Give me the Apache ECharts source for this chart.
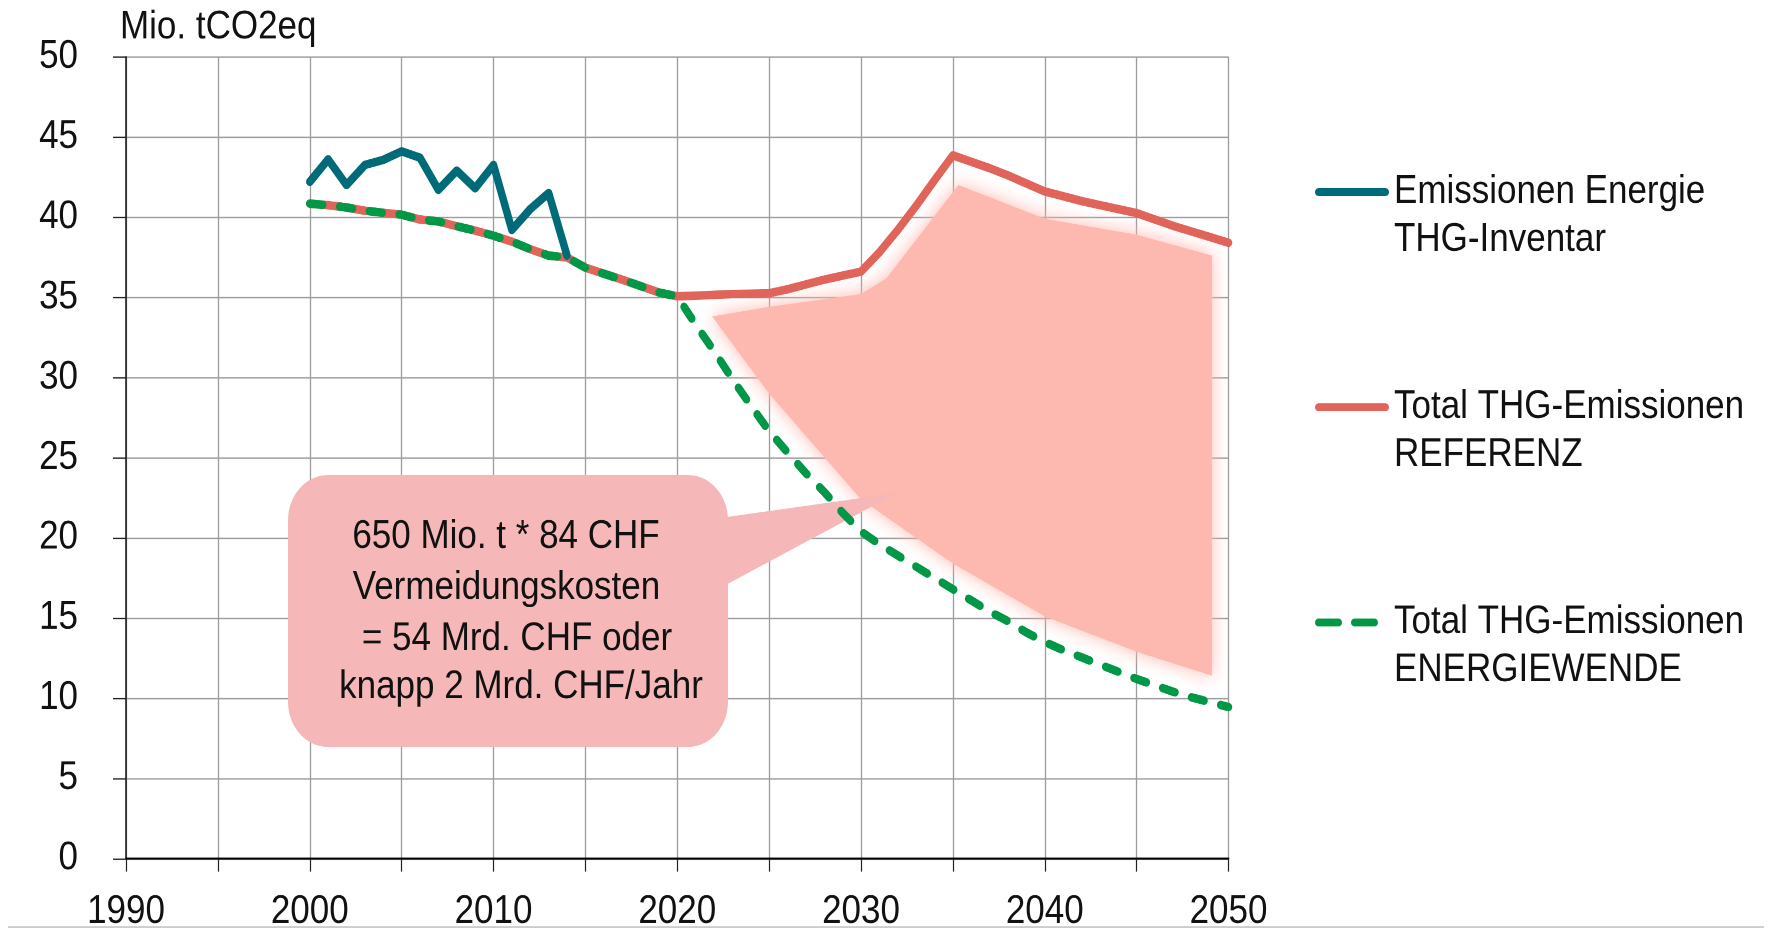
<!DOCTYPE html>
<html>
<head>
<meta charset="utf-8">
<script src="https://cdn.jsdelivr.net/npm/echarts@6/dist/echarts.min.js"></script>
<style>
html, body { margin: 0; padding: 0; background: #ffffff; overflow: hidden; width: 1773px; height: 932px; }
#chart { width: 1773px; height: 825px; transform: scaleY(1.12970); transform-origin: 0 0; }
</style>
</head>
<body>
<div id="chart"></div>
<script>
// ---------- data ----------
const yAxisTitle = 'Mio. tCO2eq';

const inventarYears = [2000, 2001, 2002, 2003, 2004, 2005, 2006, 2007, 2008, 2009, 2010, 2011, 2012, 2013, 2014];
const inventar      = [42.2, 43.6, 42.0, 43.25, 43.57, 44.1, 43.7, 41.7, 42.9, 41.8, 43.25, 39.2, 40.5, 41.5, 37.6];

const scenarioYears = [2000, 2001, 2002, 2003, 2004, 2005, 2006, 2007, 2008, 2009,
                       2010, 2011, 2012, 2013, 2014, 2015, 2016, 2017, 2018, 2019,
                       2020, 2021, 2022, 2023, 2024, 2025, 2026, 2027, 2028, 2029,
                       2030, 2031, 2032, 2033, 2034, 2035, 2036, 2037, 2038, 2039,
                       2040, 2041, 2042, 2043, 2044, 2045, 2046, 2047, 2048, 2049, 2050];
const referenz = [40.84, 40.74, 40.6, 40.4, 40.27, 40.15, 39.85, 39.73, 39.43, 39.16,
                  38.84, 38.47, 38.0, 37.6, 37.48, 36.85, 36.47, 36.1, 35.7, 35.3,
                  35.06, 35.1, 35.15, 35.2, 35.22, 35.25, 35.5, 35.8, 36.1, 36.35,
                  36.6, 37.8, 39.2, 40.7, 42.3, 43.85, 43.45, 43.05, 42.6, 42.1,
                  41.6, 41.3, 41.0, 40.75, 40.5, 40.25, 39.85, 39.45, 39.1, 38.75, 38.4];
const energiewende = [40.84, 40.74, 40.6, 40.4, 40.27, 40.15, 39.85, 39.73, 39.43, 39.16,
                      38.84, 38.47, 38.0, 37.6, 37.48, 36.85, 36.47, 36.1, 35.7, 35.3,
                      35.06, 33.3, 31.65, 29.9, 28.25, 26.65, 25.33, 24.03, 22.86, 21.56,
                      20.4, 19.6, 18.9, 18.2, 17.5, 16.8, 16.1, 15.4, 14.8, 14.1,
                      13.5, 13.0, 12.55, 12.1, 11.65, 11.2, 10.8, 10.4, 10.05, 9.75, 9.45];

// gap area (soft shaded polygon between the two scenarios)
const shadeUpper = [[2021.9, 33.8], [2025, 34.4], [2030, 35.2], [2031.4, 36.2], [2035.3, 42.0], [2040, 39.9], [2045, 38.9], [2049.1, 37.6]];
const shadeLower = [[2049.1, 11.4], [2045, 12.9], [2040, 15.1], [2035, 18.4], [2030, 22.4], [2025, 29.0]];

const seriesNames = ['Emissionen Energie\nTHG-Inventar', 'Total THG-Emissionen\nREFERENZ', 'Total THG-Emissionen\nENERGIEWENDE'];
const calloutLines = ['650 Mio. t * 84 CHF', 'Vermeidungskosten', '= 54 Mrd. CHF oder', 'knapp 2 Mrd. CHF/Jahr'];

const xMin = 1990, xMax = 2050, xStep = 5, xLabelStep = 10;
const yMin = 0, yMax = 50, yStep = 5;

// ---------- styles ----------
const FONT = "'Liberation Sans', Arial, sans-serif";
const TXT = '#111111';
const GRID_C = '#9c9c9c';
const C_TEAL = '#006b78';
const C_RED = '#e0645a';
const C_GREEN = '#009846';
const C_SHADE = '#fdb9b0';
const C_CALLOUT = '#f5b7b7';
const LINE_W = 7.5;

const ICON_SOLID = 'path://M3.5,0H70.5A3.5,3.5 0 0 1 70.5,7H3.5A3.5,3.5 0 0 1 3.5,0Z';
const ICON_DASH = 'path://M3.5,0H23.5A3.5,3.5 0 0 1 23.5,7H3.5A3.5,3.5 0 0 1 3.5,0Z M39.5,0H59.5A3.5,3.5 0 0 1 59.5,7H39.5A3.5,3.5 0 0 1 39.5,0Z M73.9,3.45H74V3.55H73.9Z';

function pairs(xs, ys) { return xs.map((x, i) => [x, ys[i]]); }

const chart = echarts.init(document.getElementById('chart'), null, { devicePixelRatio: 2 });

const calloutY = [475.3, 520.5, 565.6, 608.1];
const calloutX = [506, 506.5, 517, 521];

chart.setOption({
  animation: false,
  backgroundColor: '#ffffff',
  grid: { left: 126, right: 544.5, top: 50.2, bottom: 63.7, containLabel: false },
  xAxis: {
    type: 'value', min: xMin, max: xMax, interval: xStep,
    axisLine: { show: true, onZero: false, lineStyle: { color: '#000000', width: 1.8 } },
    axisTick: { show: true, length: 11.5, lineStyle: { color: '#222222', width: 1.2 } },
    axisLabel: {
      margin: 30, fontFamily: FONT, fontSize: 35, lineHeight: 35, color: TXT,
      formatter: v => (v % xLabelStep === 0 ? String(v) : '')
    },
    splitLine: { show: true, lineStyle: { color: GRID_C, width: 1.3 } }
  },
  yAxis: {
    type: 'value', min: yMin, max: yMax, interval: yStep,
    axisLine: { show: true, lineStyle: { color: '#111111', width: 1.5 } },
    axisTick: { show: true, length: 13, lineStyle: { color: '#222222', width: 1.2 } },
    axisLabel: { margin: 48, fontFamily: FONT, fontSize: 35, color: TXT },
    splitLine: { show: true, lineStyle: { color: GRID_C, width: 1.3 } }
  },
  legend: {
    data: [
      { name: seriesNames[0], icon: ICON_SOLID },
      { name: seriesNames[1], icon: ICON_SOLID },
      { name: seriesNames[2], icon: ICON_DASH }
    ],
    orient: 'vertical', left: 1315, top: 106.25, padding: 0,
    itemGap: 63, itemWidth: 74, itemHeight: 7,
    selectedMode: false,
    itemStyle: { borderWidth: 0 },
    formatter: name => ' \n' + name,
    textStyle: { fontFamily: FONT, fontSize: 35, lineHeight: 42.5, color: TXT }
  },
  graphic: [
    { type: 'text', x: 120, y: 24.3, z: 5,
      style: { text: yAxisTitle, font: '35px ' + FONT, fill: TXT, align: 'left', verticalAlign: 'middle' } },
    { type: 'line', z: 0, shape: { x1: 8, y1: 820.6, x2: 1764, y2: 820.6 },
      style: { stroke: '#cccccc', lineWidth: 1.8 } },
    { type: 'rect', z: 1.5, shape: { x: 288, y: 420.5, width: 440, height: 240.7, r: 40 },
      style: { fill: C_CALLOUT } },
    { type: 'polygon', z: 1.5, shape: { points: [[720, 458.5], [897, 436.4], [720, 520.5]] },
      style: { fill: C_CALLOUT } }
  ].concat(calloutLines.map((t, i) => ({
    type: 'text', x: calloutX[i], y: calloutY[i], z: 1.6,
    style: { text: t, font: '35px ' + FONT, fill: TXT, align: 'center', verticalAlign: 'middle' }
  }))),
  series: [
    {
      type: 'custom', name: 'gap', coordinateSystem: 'cartesian2d', z: 1, silent: true,
      data: [[2035, 30]],
      renderItem: function (params, api) {
        const pts = shadeUpper.concat(shadeLower).map(p => api.coord(p));
        return {
          type: 'polygon', shape: { points: pts },
          style: { fill: C_SHADE, blend: 'multiply', shadowBlur: 16, shadowColor: C_SHADE }
        };
      }
    },
    {
      type: 'line', name: seriesNames[1], z: 2, data: pairs(scenarioYears, referenz),
      symbol: 'none', color: C_RED,
      lineStyle: { color: C_RED, width: LINE_W, cap: 'round', join: 'round' },
      emphasis: { disabled: true }
    },
    {
      type: 'line', name: seriesNames[2], z: 3, data: pairs(scenarioYears, energiewende),
      symbol: 'none', color: C_GREEN,
      lineStyle: { color: C_GREEN, width: LINE_W, type: [13, 17], cap: 'round', join: 'round' },
      emphasis: { disabled: true }
    },
    {
      type: 'line', name: seriesNames[0], z: 4, data: pairs(inventarYears, inventar),
      symbol: 'none', color: C_TEAL,
      lineStyle: { color: C_TEAL, width: LINE_W, cap: 'round', join: 'round' },
      emphasis: { disabled: true }
    }
  ]
});
</script>
</body>
</html>
